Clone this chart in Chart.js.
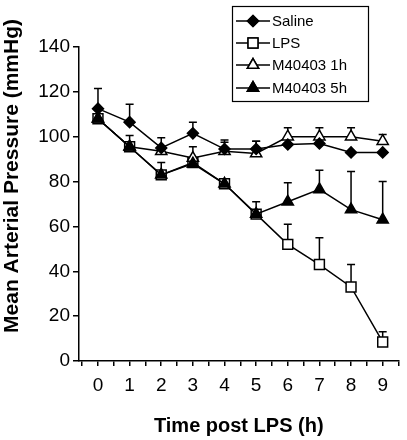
<!DOCTYPE html>
<html>
<head>
<meta charset="utf-8">
<script src="https://cdn.jsdelivr.net/npm/chart.js@4"></script>
<style>
body{margin:0;background:#fff;}
#wrap{width:407px;height:440px;position:relative;}
</style>
</head>
<body>
<div id="wrap"><canvas id="mapChart"></canvas></div>
<script>
// values
const hours=[0,1,2,3,4,5,6,7,8,9];
const seriesNames=["Saline","LPS","M40403 1h","M40403 5h"];
const saline=[112.5,106.5,95,101.5,94.5,94.5,96.5,97,93,93];
const salineErr=[9,8,4.5,5,4,3.5,0,0,0,0];
const lps=[108,95.5,83,88.5,79,65.5,52,43,33,8.5];
const lpsErr=[0,5,5.5,0,1.5,0,9,12,10,4.5];
const m1h=[108,95.5,93.5,90.5,93.5,92.5,100,100,100,98];
const m1hErr=[0,0,0,5,4,5.5,4,4,4,3];
const m5h=[108,95.5,83,88,79,65.5,71,76.5,67.5,63];
const m5hErr=[0,0,0,0,0,5.5,8.5,8.5,17,17];
const yTicks=[0,20,40,60,80,100,120,140];

const FONT="'Liberation Sans', Arial, sans-serif";

function pts(vals){
    return vals.map((v,i)=>({x:hours[i],y:v}));
}

// upward error bars with a cap
const errorBars={
    id:"errorBars",
    beforeDatasetsDraw(chart){
        const ctx=chart.ctx;
        const xs=chart.scales.x, ys=chart.scales.y;
        const errs=[salineErr,lpsErr,m1hErr,m5hErr];
        ctx.save();
        ctx.strokeStyle="#000";
        ctx.lineWidth=1.5;
        chart.data.datasets.forEach((ds,k)=>{
            ds.data.forEach((p,i)=>{
                let e=errs[k][i];
                if(!e) return;
                let x=xs.getPixelForValue(p.x);
                let y0=ys.getPixelForValue(p.y);
                let y1=ys.getPixelForValue(p.y+e);
                ctx.beginPath();
                ctx.moveTo(x,y0);ctx.lineTo(x,y1);
                ctx.moveTo(x-4,y1);ctx.lineTo(x+4,y1);
                ctx.stroke();
            });
        });
        ctx.restore();
    }
};

// boxed legend + y title
const extras={
    id:"extras",
    afterDraw(chart){
        const ctx=chart.ctx;
        ctx.save();
        // legend box
        ctx.strokeStyle="#000";
        ctx.lineWidth=1.2;
        ctx.strokeRect(232.5,6.5,136,95);
        const rowsY=[21,43,65,88];
        seriesNames.forEach((name,i)=>{
            let ds=chart.data.datasets.find(d=>d.label===name);
            let y=rowsY[i];
            ctx.strokeStyle="#000";
            ctx.lineWidth=1.5;
            ctx.beginPath();ctx.moveTo(236,y);ctx.lineTo(270,y);ctx.stroke();
            Chart.helpers.drawPoint(ctx,{
                pointStyle:ds.pointStyle,
                radius:ds.pointRadius,
                borderWidth:1.5
            },253,y);
            ctx.fillStyle=ds.pointBackgroundColor;
            ctx.strokeStyle="#000";
            ctx.fill();ctx.stroke();
            ctx.fillStyle="#000";
            ctx.font="15px "+FONT;
            ctx.textBaseline="middle";
            ctx.textAlign="left";
            ctx.fillText(name,272,y+1);
        });
        // y axis title
        ctx.translate(12,176);
        ctx.rotate(-Math.PI/2);
        ctx.font="bold 21px "+FONT;
        ctx.textAlign="center";
        ctx.textBaseline="middle";
        ctx.fillStyle="#000";
        ctx.fillText("Mean Arterial Pressure (mmHg)",0,0);
        ctx.restore();
    }
};

function makeSet(label,vals,style,filled,radius,order){
    return {
        label:label,
        data:pts(vals),
        borderColor:"#000",
        borderWidth:1.5,
        pointStyle:style,
        pointRadius:radius,
        pointHoverRadius:radius,
        pointBorderColor:"#000",
        pointBorderWidth:1.5,
        pointBackgroundColor:filled?"#000":"#fff",
        tension:0,
        fill:false,
        order:order
    };
}

new Chart(document.getElementById("mapChart"),{
    type:"line",
    data:{
        datasets:[
            makeSet(seriesNames[0],saline,"rectRot",true,5.5,0),
            makeSet(seriesNames[1],lps,"rect",false,7,3),
            makeSet(seriesNames[2],m1h,"triangle",false,6.5,2),
            makeSet(seriesNames[3],m5h,"triangle",true,6.5,1)
        ]
    },
    options:{
        responsive:true,
        maintainAspectRatio:false,
        animation:false,
        layout:{padding:{top:47,right:5,left:0,bottom:0}},
        plugins:{legend:{display:false},tooltip:{enabled:false}},
        scales:{
            x:{
                type:"linear",
                min:-0.6,
                max:9.5,
                afterBuildTicks(scale){
                    let t=[];
                    for(let v=-0.5;v<=9.5;v+=0.5) t.push({value:v});
                    scale.ticks=t;
                },
                afterFit(scale){scale.height=79;},
                grid:{display:true,drawOnChartArea:false,drawTicks:true,tickLength:5,color:"#000",lineWidth:1.5},
                border:{display:true,color:"#000",width:1.5},
                ticks:{
                    autoSkip:false,
                    maxRotation:0,
                    padding:8,
                    color:"#000",
                    font:{family:FONT,size:19},
                    callback:(v)=>(Number.isInteger(v)&&hours.includes(v))?String(v):""
                },
                title:{display:true,text:"Time post LPS (h)",color:"#000",font:{family:FONT,size:20,weight:"bold"},padding:{top:0,bottom:2}}
            },
            y:{
                min:0,
                max:140,
                afterBuildTicks(scale){
                    scale.ticks=yTicks.map(v=>({value:v}));
                },
                afterFit(scale){scale.width=79;},
                grid:{display:true,drawOnChartArea:false,drawTicks:true,tickLength:6,color:"#000",lineWidth:1.5},
                border:{display:true,color:"#000",width:1.5},
                ticks:{
                    padding:3,
                    color:"#000",
                    font:{family:FONT,size:19}
                }
            }
        }
    },
    plugins:[errorBars,extras]
});
</script>
</body>
</html>
